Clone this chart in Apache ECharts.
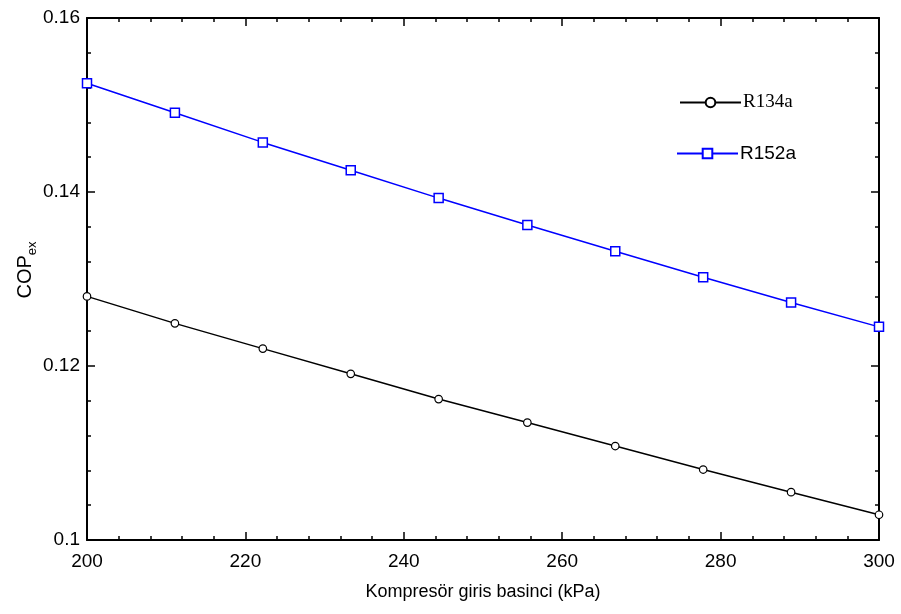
<!DOCTYPE html>
<html>
<head>
<meta charset="utf-8">
<script src="https://cdn.jsdelivr.net/npm/echarts@6/dist/echarts.min.js"></script>
<style>html,body{margin:0;padding:0;background:#fff}#c{width:901px;height:614px}</style>
</head>
<body>
<div id="c"></div>
<script>
const pressure = [200, 211.1, 222.2, 233.3, 244.4, 255.6, 266.7, 277.8, 288.9, 300];
const r134a = [0.1280, 0.1249, 0.1220, 0.1191, 0.1162, 0.1135, 0.1108, 0.1081, 0.1055, 0.1029];
const r152a = [0.1525, 0.1491, 0.1457, 0.1425, 0.1393, 0.1362, 0.1332, 0.1302, 0.1273, 0.1245];
const seriesNames = ['R134a', 'R152a'];
const xTitle = 'Kompresör giris basinci (kPa)';

const chart = echarts.init(document.getElementById('c'));
const sans = 'Liberation Sans, Arial, sans-serif';
const axisFont = {fontFamily: sans, fontSize: 19, color: '#000'};
const lineStyle = {color: '#000', width: 2};
const common = {
  axisLine: {show: true, lineStyle: lineStyle},
  axisTick: {show: true, inside: true, length: 8, lineStyle: {color: '#000', width: 1.5}},
  minorTick: {show: true, splitNumber: 5, length: 4, lineStyle: {color: '#000', width: 1.5}},
  splitLine: {show: false}
};
function pairs(ys) { return pressure.map((x, i) => [x, ys[i]]); }

chart.setOption({
  animation: false,
  backgroundColor: '#fff',
  grid: {left: 87, right: 22, top: 18, bottom: 74},
  legend: [
    {left: 679, top: 93, padding: 0, itemWidth: 61, itemHeight: 12, itemGap: 0,
     data: [{name: seriesNames[0], textStyle: {fontFamily: 'Liberation Serif, Times New Roman, serif', fontSize: 19, color: '#000', padding: [0,0,0,-3]}}]},
    {left: 676, top: 144, padding: 0, itemWidth: 61, itemHeight: 12, itemGap: 0,
     data: [{name: seriesNames[1], textStyle: {fontFamily: sans, fontSize: 19, color: '#000', padding: [0,0,0,-3]}}]}
  ],
  xAxis: [
    Object.assign({type: 'value', min: 200, max: 300, interval: 20, position: 'bottom',
      axisLabel: Object.assign({margin: 12}, axisFont),
      name: xTitle, nameLocation: 'middle', nameGap: 43, nameMoveOverlap: false,
      nameTextStyle: {fontFamily: sans, fontSize: 18, color: '#000'}}, common),
    Object.assign({type: 'value', min: 200, max: 300, interval: 20, position: 'top',
      axisLabel: {show: false}}, common)
  ],
  yAxis: [
    Object.assign({type: 'value', min: 0.1, max: 0.16, interval: 0.02, position: 'left',
      axisLabel: Object.assign({margin: 7}, axisFont),
      name: '{a|COP}{b|ex}', nameLocation: 'middle', nameGap: 52, nameRotate: 90, nameMoveOverlap: false,
      nameTextStyle: {padding: [0, 0, 0, 18], rich: {
        a: {fontFamily: sans, fontSize: 20, color: '#000', verticalAlign: 'bottom', lineHeight: 22},
        b: {fontFamily: sans, fontSize: 13, color: '#000', verticalAlign: 'bottom', lineHeight: 13, padding: [0,0,-4,0]}
      }}}, common),
    Object.assign({type: 'value', min: 0.1, max: 0.16, interval: 0.02, position: 'right',
      axisLabel: {show: false}}, common)
  ],
  series: [
    {name: seriesNames[0], type: 'line', data: pairs(r134a), symbol: 'circle', symbolSize: 7.5,
     lineStyle: {color: '#000', width: 1.5}, itemStyle: {color: '#fff', borderColor: '#000', borderWidth: 1.2}, color: '#000'},
    {name: seriesNames[1], type: 'line', data: pairs(r152a), symbol: 'rect', symbolSize: 9,
     lineStyle: {color: '#0000ff', width: 1.5}, itemStyle: {color: '#fff', borderColor: '#0000ff', borderWidth: 1.5}, color: '#0000ff'}
  ]
});
</script>
</body>
</html>
